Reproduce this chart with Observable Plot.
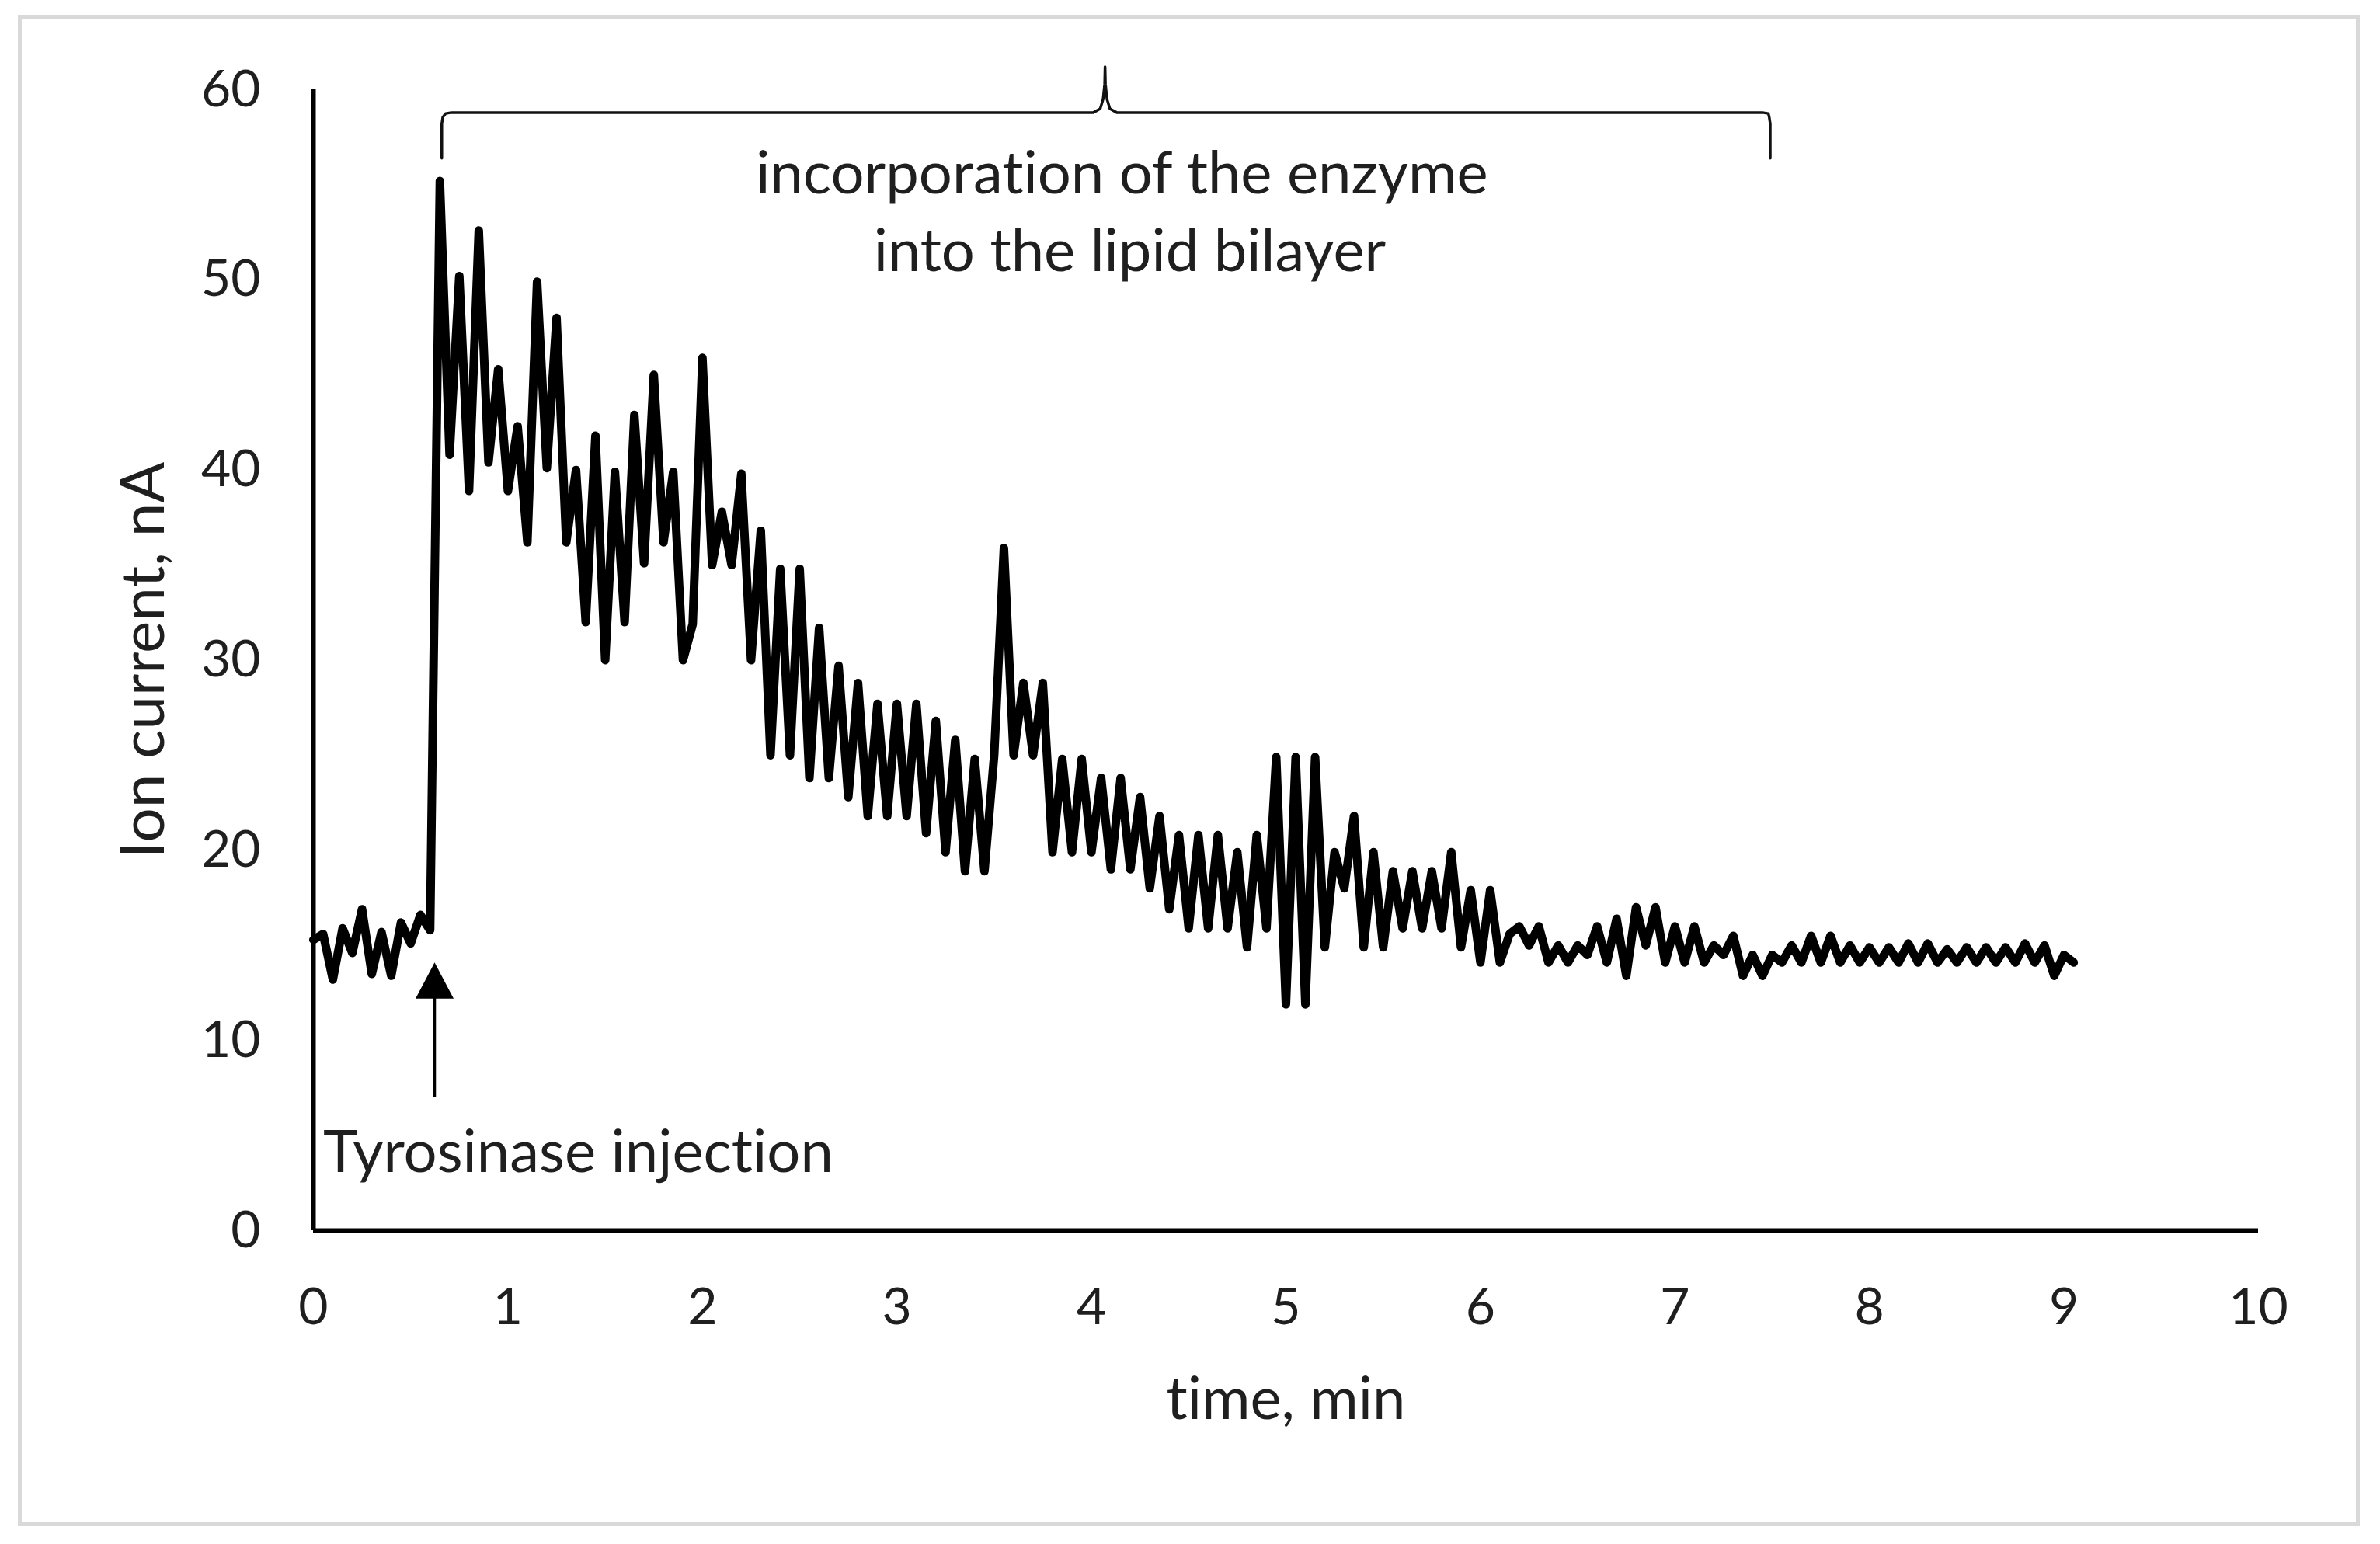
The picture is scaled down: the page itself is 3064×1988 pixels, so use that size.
<!DOCTYPE html>
<html>
<head>
<meta charset="utf-8">
<script src="https://cdn.jsdelivr.net/npm/d3@7"></script>
<script src="https://cdn.jsdelivr.net/npm/@observablehq/plot@0.6"></script>
<style>
  html, body { margin: 0; padding: 0; background: #ffffff; }
  #wrap { position: relative; width: 3064px; height: 1988px; background: #ffffff; }
  #border { position: absolute; left: 23px; top: 19px; width: 3005px; height: 1936px;
            border: 5px solid #d9d9d9; pointer-events: none; }
  svg text { font-variant-ligatures: none; font-feature-settings: "liga" 0, "clig" 0, "dlig" 0; }
</style>
</head>
<body>
<div id="wrap"><div id="chart"></div><div id="border"></div></div>
<script>
// ---- data (time in min, ion current in nA) ----
const time = [
  0.00, 0.05, 0.10, 0.15, 0.20, 0.25, 0.30, 0.35, 0.40, 0.45,
  0.50, 0.55, 0.60, 0.65, 0.70, 0.75, 0.80, 0.85, 0.90, 0.95,
  1.00, 1.05, 1.10, 1.15, 1.20, 1.25, 1.30, 1.35, 1.40, 1.45,
  1.50, 1.55, 1.60, 1.65, 1.70, 1.75, 1.80, 1.85, 1.90, 1.95,
  2.00, 2.05, 2.10, 2.15, 2.20, 2.25, 2.30, 2.35, 2.40, 2.45,
  2.50, 2.55, 2.60, 2.65, 2.70, 2.75, 2.80, 2.85, 2.90, 2.95,
  3.00, 3.05, 3.10, 3.15, 3.20, 3.25, 3.30, 3.35, 3.40, 3.45,
  3.50, 3.55, 3.60, 3.65, 3.70, 3.75, 3.80, 3.85, 3.90, 3.95,
  4.00, 4.05, 4.10, 4.15, 4.20, 4.25, 4.30, 4.35, 4.40, 4.45,
  4.50, 4.55, 4.60, 4.65, 4.70, 4.75, 4.80, 4.85, 4.90, 4.95,
  5.00, 5.05, 5.10, 5.15, 5.20, 5.25, 5.30, 5.35, 5.40, 5.45,
  5.50, 5.55, 5.60, 5.65, 5.70, 5.75, 5.80, 5.85, 5.90, 5.95,
  6.00, 6.05, 6.10, 6.15, 6.20, 6.25, 6.30, 6.35, 6.40, 6.45,
  6.50, 6.55, 6.60, 6.65, 6.70, 6.75, 6.80, 6.85, 6.90, 6.95,
  7.00, 7.05, 7.10, 7.15, 7.20, 7.25, 7.30, 7.35, 7.40, 7.45,
  7.50, 7.55, 7.60, 7.65, 7.70, 7.75, 7.80, 7.85, 7.90, 7.95,
  8.00, 8.05, 8.10, 8.15, 8.20, 8.25, 8.30, 8.35, 8.40, 8.45,
  8.50, 8.55, 8.60, 8.65, 8.70, 8.75, 8.80, 8.85, 8.90, 8.95,
  9.00, 9.05
];
const current = [
  15.3, 15.6, 13.2, 15.9, 14.6, 16.9, 13.5, 15.7, 13.4, 16.2,
  15.1, 16.6, 15.8, 55.2, 40.8, 50.2, 38.9, 52.6, 40.4, 45.3,
  38.9, 42.3, 36.2, 49.9, 40.1, 48.0, 36.2, 40.0, 32.0, 41.8,
  30.0, 39.9, 32.0, 42.9, 35.1, 45.0, 36.2, 39.9, 30.0, 31.9,
  45.9, 35.0, 37.8, 35.0, 39.8, 30.0, 36.8, 25.0, 34.8, 25.0,
  34.8, 23.8, 31.7, 23.8, 29.7, 22.8, 28.8, 21.8, 27.7, 21.8,
  27.7, 21.8, 27.7, 20.9, 26.8, 19.9, 25.8, 18.9, 24.8, 18.9,
  25.0, 35.9, 25.0, 28.8, 25.0, 28.8, 19.9, 24.8, 19.9, 24.8,
  19.9, 23.8, 19.0, 23.8, 19.0, 22.8, 18.0, 21.8, 16.9, 20.8,
  15.9, 20.8, 15.9, 20.8, 15.9, 19.9, 14.9, 20.8, 15.9, 24.9,
  11.9, 24.9, 11.9, 24.9, 14.9, 19.9, 18.0, 21.8, 14.9, 19.9,
  14.9, 18.9, 15.9, 18.9, 15.9, 18.9, 15.9, 19.9, 14.9, 17.9,
  14.1, 17.9, 14.1, 15.6, 16.0, 15.0, 16.0, 14.1, 15.0, 14.1,
  15.0, 14.5, 16.0, 14.1, 16.4, 13.4, 17.0, 15.0, 17.0, 14.1,
  16.0, 14.1, 16.0, 14.1, 15.0, 14.5, 15.5, 13.4, 14.5, 13.4,
  14.5, 14.1, 15.0, 14.1, 15.5, 14.1, 15.5, 14.1, 15.0, 14.1,
  14.9, 14.1, 14.9, 14.1, 15.1, 14.1, 15.1, 14.1, 14.8, 14.1,
  14.9, 14.1, 14.9, 14.1, 14.9, 14.1, 15.1, 14.1, 15.0, 13.4,
  14.5, 14.1
];
const xTicks = [0, 1, 2, 3, 4, 5, 6, 7, 8, 9, 10];
const yTicks = [0, 10, 20, 30, 40, 50, 60];
const xTitle = "time, min";
const yTitle = "Ion current, nA";

// ---- annotations (data coordinates) ----
const braceTime  = [0.66, 0.66, 0.665, 0.68, 0.71, 4.01, 4.045, 4.06, 4.068, 4.07, 4.072, 4.08, 4.095, 4.13, 7.45, 7.48, 7.485, 7.49, 7.49];
const braceLevel = [56.4, 58.2, 58.55, 58.75, 58.8, 58.8, 59.0, 59.5, 60.3, 61.2, 60.3, 59.5, 59.0, 58.8, 58.8, 58.75, 58.55, 58.2, 56.4];
const labelText  = ["incorporation of the enzyme", "into the lipid bilayer"];
const labelTime  = [4.157, 4.197];
const labelLevel = [55.55, 51.47];
const injectionText = ["Tyrosinase injection"];
const injectionTextTime = [0.05];
const injectionTextLevel = [4.08];
const injectionTime = [0.623];
const arrowTail = [7.0];
const arrowShaftTop = [12.6];
const arrowTip = [14.1];

const series = time.map((t, i) => ({t, v: current[i]}));
const brace = braceTime.map((t, i) => ({t, v: braceLevel[i]}));
const labels = labelText.map((s, i) => ({s, t: labelTime[i], v: labelLevel[i]}));
const inj = injectionText.map((s, i) => ({s, t: injectionTextTime[i], v: injectionTextLevel[i]}));
const arrow = injectionTime.map((t, i) => ({t, tail: arrowTail[i], top: arrowShaftTop[i], tip: arrowTip[i]}));

const arrowHead = {
  draw(context, size) {
    const k = Math.sqrt(size / Math.PI);
    context.moveTo(0, 0);
    context.lineTo(k * 0.5, k * 0.95);
    context.lineTo(-k * 0.5, k * 0.95);
    context.closePath();
  }
};

const textColor = "#1f1f1f";

const chart = Plot.plot({
  width: 3064,
  height: 1988,
  marginLeft: 403,
  marginRight: 157,
  marginTop: 115,
  marginBottom: 404,
  style: {fontFamily: "Lato, 'Open Sans', sans-serif", fontSize: "66px", color: textColor, background: "#ffffff"},
  x: {domain: [0, 10]},
  y: {domain: [0, 60]},
  marks: [
    Plot.axisX({ticks: xTicks, tickSize: 0, tickPadding: 74, fontSize: 66, label: null, tickFormat: d => String(d)}),
    Plot.axisY({ticks: yTicks, tickSize: 0, tickPadding: 68, fontSize: 66, label: null, tickFormat: d => String(d)}),
    Plot.line(series, {x: "t", y: "v", stroke: "#000000", strokeWidth: 11, strokeLinejoin: "round", strokeLinecap: "round"}),
    Plot.ruleX([0], {stroke: "#000000", strokeWidth: 6}),
    Plot.ruleY([0], {stroke: "#000000", strokeWidth: 6}),
    Plot.line(brace, {x: "t", y: "v", stroke: "#111111", strokeWidth: 3.5, strokeLinejoin: "round"}),
    Plot.text(labels, {x: "t", y: "v", text: "s", fontSize: 76, fill: textColor, textAnchor: "middle", lineAnchor: "middle"}),
    Plot.text(inj, {x: "t", y: "v", text: "s", fontSize: 76, fill: textColor, textAnchor: "start", lineAnchor: "middle"}),
    Plot.ruleX(arrow, {x: "t", y1: "tail", y2: "top", stroke: "#000000", strokeWidth: 3.5}),
    Plot.dot(arrow, {x: "t", y: "tip", r: 49, symbol: arrowHead, fill: "#000000", stroke: "none"}),
    Plot.text([xTitle], {frameAnchor: "bottom", dy: 218, fontSize: 76, fill: textColor, textAnchor: "middle", lineAnchor: "middle"}),
    Plot.text([yTitle], {frameAnchor: "left", dx: -217, rotate: -90, fontSize: 78, fill: textColor, textAnchor: "middle", lineAnchor: "middle"})
  ]
});
document.getElementById("chart").appendChild(chart);
</script>
</body>
</html>
